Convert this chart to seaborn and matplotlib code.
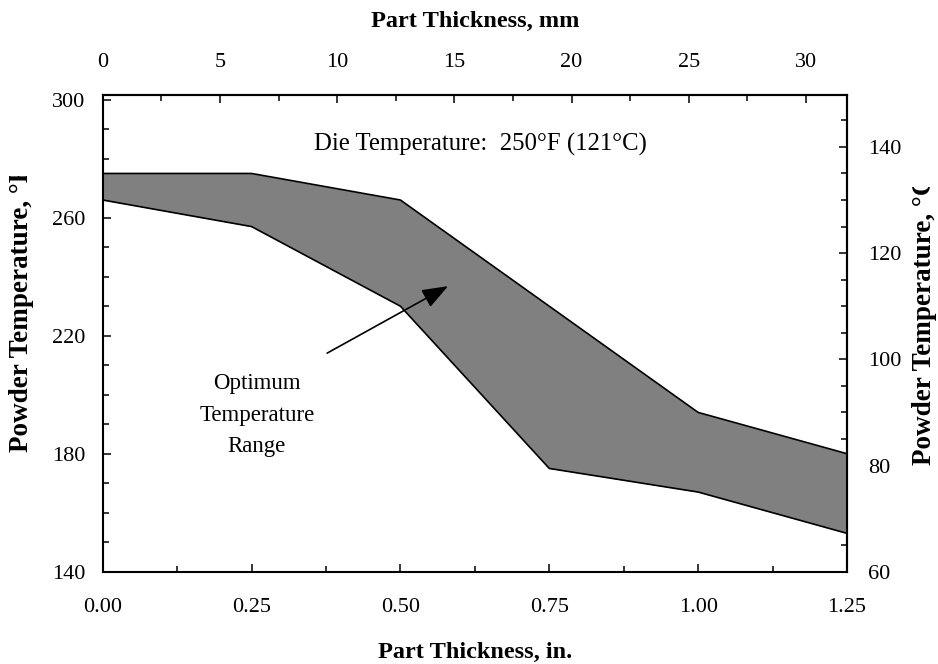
import matplotlib
matplotlib.use("Agg")
import matplotlib.pyplot as plt
import seaborn as sns
import pandas as pd
from matplotlib.ticker import MultipleLocator, FixedLocator, FixedFormatter
from matplotlib.transforms import Bbox

# Optimum powder temperature band vs. part thickness (die at 250 F)
thickness_in = [0.0, 0.25, 0.5, 0.75, 1.0, 1.25]
upper_temp_f = [275, 275, 266, 230, 194, 180]
lower_temp_f = [266, 257, 230, 175, 167, 153]

x_ticks_in = [0.0, 0.25, 0.5, 0.75, 1.0, 1.25]
x_tick_labels = ["0.00", "0.25", "0.50", "0.75", "1.00", "1.25"]
mm_ticks = [0, 5, 10, 15, 20, 25, 30]
f_ticks = [140, 180, 220, 260, 300]
c_ticks = [60, 80, 100, 120, 140]

sns.set_style("ticks")
plt.rcParams["font.family"] = ["Liberation Serif", "DejaVu Serif"]
plt.rcParams.update({
    "axes.linewidth": 1.5,
    "text.color": "black",
    "axes.edgecolor": "black",
    "axes.labelcolor": "black",
    "xtick.color": "black",
    "ytick.color": "black",
})

W, H = 938, 664
fig = plt.figure(figsize=(W / 100, H / 100), dpi=100)
L, R, T, B = 102.7, 847.0, 95.0, 571.7
ax = fig.add_axes([L / W, 1 - B / H, (R - L) / W, (B - T) / H])

df = pd.DataFrame({
    "thickness": thickness_in * 2,
    "temp": upper_temp_f + lower_temp_f,
    "bound": ["upper"] * len(thickness_in) + ["lower"] * len(thickness_in),
})

ax.fill_between(thickness_in, lower_temp_f, upper_temp_f, color="#808080", lw=0, zorder=1)
sns.lineplot(data=df, x="thickness", y="temp", units="bound", estimator=None,
             color="black", lw=1.2, ax=ax, legend=False, zorder=2)

ax.set_xlim(0, 1.25)
ax.set_ylim(140, 301.6)
ax.set_xlabel("")
ax.set_ylabel("")

TICK_FS = 16
ax.xaxis.set_major_locator(FixedLocator(x_ticks_in))
ax.xaxis.set_major_formatter(FixedFormatter(x_tick_labels))
ax.xaxis.set_minor_locator(MultipleLocator(0.125))
ax.yaxis.set_major_locator(FixedLocator(f_ticks))
ax.yaxis.set_minor_locator(MultipleLocator(10))
ax.tick_params(axis="both", which="both", direction="in", width=1.1,
               top=False, right=False, labelsize=TICK_FS, colors="black")
ax.tick_params(which="major", length=6)
ax.tick_params(which="minor", length=4.3)
ax.tick_params(axis="x", pad=19)
ax.tick_params(axis="y", pad=12.5)

# millimetre scale along the top
secx = ax.secondary_xaxis("top", functions=(lambda x: x * 25.4, lambda x: x / 25.4))
secx.xaxis.set_major_locator(FixedLocator(mm_ticks))
secx.xaxis.set_minor_locator(MultipleLocator(2.5))
secx.tick_params(which="both", direction="in", width=1.1, labelsize=TICK_FS, pad=16.5,
                 colors="black")
secx.tick_params(which="major", length=5.5)
secx.tick_params(which="minor", length=4)
secx.spines["top"].set_linewidth(1.5)

# Celsius scale on the right
secy = ax.secondary_yaxis("right", functions=(lambda f: (f - 32) / 1.8, lambda c: c * 1.8 + 32))
secy.yaxis.set_major_locator(FixedLocator(c_ticks))
secy.yaxis.set_minor_locator(MultipleLocator(5))
secy.tick_params(which="both", direction="in", width=1.1, labelsize=TICK_FS, pad=15,
                 colors="black")
secy.tick_params(which="major", length=6)
secy.tick_params(which="minor", length=4.3)
secy.spines["right"].set_linewidth(1.5)

LABEL_FS = 17.5
fig.text((L + R) / 2 / W, 1 - 27 / H, "Part Thickness, mm", ha="center", va="baseline",
         fontsize=LABEL_FS, fontweight="bold")
fig.text((L + R) / 2 / W, 1 - 658 / H, "Part Thickness, in.", ha="center", va="baseline",
         fontsize=LABEL_FS, fontweight="bold")

renderer = fig.canvas.get_renderer()
SIDE_FS = 19.5
em_px = SIDE_FS * 100 / 72


def side_label(x_px, y_bottom_px, unit, keep_em):
    props = dict(rotation=90, ha="center", va="bottom", fontsize=SIDE_FS, fontweight="bold")
    probe = fig.text(x_px / W, 1 - y_bottom_px / H, "Powder Temperature, °", **props)
    ext = probe.get_window_extent(renderer)
    probe.remove()
    label = fig.text(x_px / W, 1 - y_bottom_px / H, "Powder Temperature, °" + unit, **props)
    label.set_clip_box(Bbox([[0, 0], [W, ext.y1 + keep_em * em_px]]))
    label.set_clip_on(True)
    return label


side_label(22, 452, "F", 0.22)
side_label(924, 465, "C", 0.3)

ax.text(0.634, 285.0, "Die Temperature:  250°F (121°C)", ha="center", va="center", fontsize=17.8)
ax.text(0.259, 193.0, "Optimum\nTemperature\nRange", ha="center", va="center",
        multialignment="center", fontsize=16.5, linespacing=1.65)
ax.annotate("", xy=(0.580, 236.8), xytext=(0.377, 214.1),
            arrowprops=dict(arrowstyle="-|>,head_length=0.8,head_width=0.3", color="black",
                            lw=1.2, shrinkA=0, shrinkB=0, mutation_scale=20))

fig.savefig("out.png", dpi=100)
